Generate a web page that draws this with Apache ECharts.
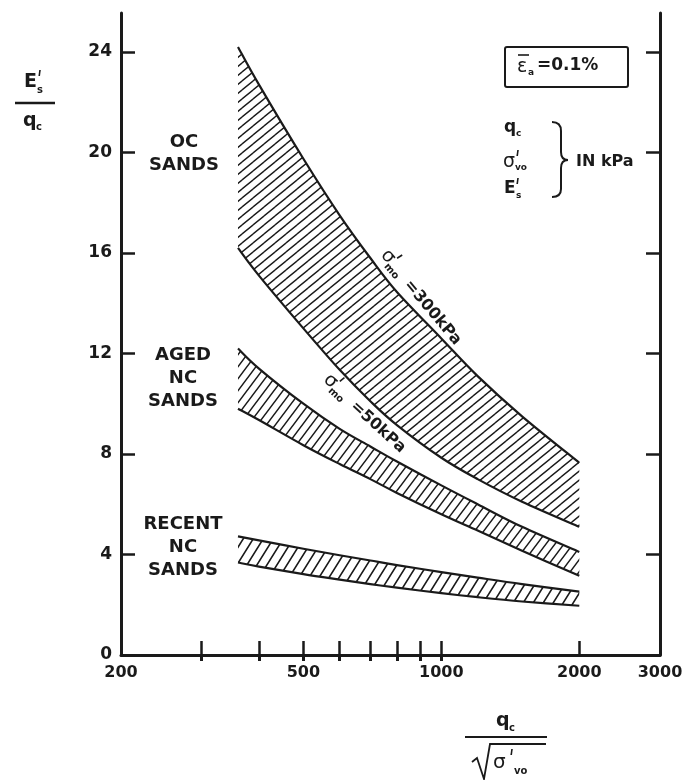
<!DOCTYPE html>
<html>
<head>
<meta charset="utf-8">
<style>html,body{margin:0;padding:0;background:#fff}#c{width:686px;height:780px}</style>
<script src="https://cdn.jsdelivr.net/npm/echarts@6/dist/echarts.min.js"></script>
</head>
<body>
<div id="c"></div>
<script>
// ---- data ----
const xValues = [360, 400, 500, 600, 700, 800, 1000, 1200, 1500, 2000];
const ocTop      = [24.2, 22.7, 19.75, 17.5, 15.8, 14.45, 12.6, 11.1, 9.5, 7.65];
const ocBottom   = [16.2, 15.1, 13.0, 11.35, 10.1, 9.15, 7.85, 7.0, 6.1, 5.1];
const agedTop    = [12.2, 11.4, 10.0, 9.0, 8.3, 7.7, 6.75, 6.0, 5.1, 4.1];
const agedBottom = [9.8, 9.35, 8.35, 7.6, 7.0, 6.45, 5.6, 4.95, 4.15, 3.15];
const recTop     = [4.72, 4.56, 4.23, 3.97, 3.76, 3.58, 3.3, 3.08, 2.82, 2.52];
const recBottom  = [3.68, 3.52, 3.22, 3.0, 2.82, 2.68, 2.46, 2.3, 2.13, 1.96];
const yTicks = [0, 4, 8, 12, 16, 20, 24];
const xTickValues = [300, 400, 500, 600, 700, 800, 900, 1000, 2000];
const xTopTickValues = [300, 400, 500, 600, 700, 800, 900, 1000];
const xLabelValues = [200, 500, 1000, 2000, 3000];

const INK = '#1a1a1a';
const FONT = '"DejaVu Sans", sans-serif';

function hatch(w, h, lw) {
  const c = document.createElement('canvas');
  c.width = w; c.height = h;
  const g = c.getContext('2d');
  g.strokeStyle = INK; g.lineWidth = lw; g.lineCap = 'square';
  g.beginPath();
  for (const k of [-1, 0, 1]) {
    g.moveTo(k * w, h); g.lineTo(k * w + w, 0);
  }
  g.stroke();
  return { image: c, repeat: 'repeat' };
}

function pairs(xs, ys) { return xs.map((x, i) => [x, ys[i]]); }

// smooth pixel-space path through screen points (Catmull-Rom as cubic Bezier)
function segs(P) {
  let d = '';
  const n = P.length;
  for (let i = 0; i < n - 1; i++) {
    const p0 = P[Math.max(i - 1, 0)], p1 = P[i], p2 = P[i + 1], p3 = P[Math.min(i + 2, n - 1)];
    const c1 = [p1[0] + (p2[0] - p0[0]) / 6, p1[1] + (p2[1] - p0[1]) / 6];
    const c2 = [p2[0] - (p3[0] - p1[0]) / 6, p2[1] - (p3[1] - p1[1]) / 6];
    d += ' C' + c1[0] + ',' + c1[1] + ' ' + c2[0] + ',' + c2[1] + ' ' + p2[0] + ',' + p2[1];
  }
  return d;
}

function bandSeries(name, top, bot, pattern) {
  return {
    name: name, type: 'custom', coordinateSystem: 'cartesian2d',
    data: pairs(xValues, top), clip: false, z: 2,
    renderItem: function (params, api) {
      if (params.dataIndex !== 0) return null;
      const T = xValues.map((x, i) => api.coord([x, top[i]]));
      const B = xValues.map((x, i) => api.coord([x, bot[i]]));
      const Br = B.slice().reverse();
      const fillPath = 'M' + T[0][0] + ',' + T[0][1] + segs(T) +
        ' L' + Br[0][0] + ',' + Br[0][1] + segs(Br) + ' Z';
      const topPath = 'M' + T[0][0] + ',' + T[0][1] + segs(T);
      const botPath = 'M' + B[0][0] + ',' + B[0][1] + segs(B);
      return { type: 'group', children: [
        { type: 'path', shape: { pathData: fillPath }, style: { fill: pattern, stroke: null } },
        { type: 'path', shape: { pathData: topPath }, style: { fill: null, stroke: INK, lineWidth: 2.2 } },
        { type: 'path', shape: { pathData: botPath }, style: { fill: null, stroke: INK, lineWidth: 2.2 } }
      ] };
    }
  };
}

function txt(x, y, text, size, opts) {
  opts = opts || {};
  const st = { text: text, fill: INK,
    font: (opts.weight || 'bold') + ' ' + size + 'px ' + FONT,
    textAlign: opts.align || 'left', textVerticalAlign: 'middle' };
  if (opts.lineHeight) st.lineHeight = opts.lineHeight;
  return { type: 'text', x: x, y: y, z: 10, silent: true, style: st };
}
function ln(x1, y1, x2, y2, w) {
  return { type: 'line', z: 10, silent: true, shape: { x1: x1, y1: y1, x2: x2, y2: y2 }, style: { stroke: INK, lineWidth: w || 2 } };
}
function prime(x, y, len) { return ln(x, y - len / 2, x - 0.8, y + len / 2, 1.6); }
function bz(x1, y1, cx, cy, x2, y2, w) {
  return { type: 'bezierCurve', z: 10, silent: true, shape: { x1: x1, y1: y1, cpx1: cx, cpy1: cy, x2: x2, y2: y2 },
    style: { stroke: INK, lineWidth: w || 2, fill: null } };
}

const chart = echarts.init(document.getElementById('c'), null, { renderer: 'canvas' });
const axisLineStyle = { color: INK, width: 3 };

chart.setOption({
  animation: false,
  backgroundColor: '#fff',
  grid: { left: 121, right: 26, top: 13, bottom: 125, containLabel: false },
  xAxis: [
    { type: 'log', logBase: 10, min: 200, max: 3000, position: 'bottom',
      axisLine: { show: true, onZero: false, lineStyle: axisLineStyle },
      axisTick: { show: true, inside: true, length: 14, lineStyle: { color: INK, width: 2.5 }, customValues: xTickValues },
      minorTick: { show: false },
      axisLabel: { customValues: xLabelValues, margin: 10, color: INK, fontFamily: FONT, fontWeight: 'bold', fontSize: 16,
        formatter: function (v) { return String(Math.round(v)); } },
      splitLine: { show: false } },
    { type: 'log', logBase: 10, min: 200, max: 3000, position: 'top',
      axisLine: { show: false },
      axisTick: { show: true, inside: true, length: 6, lineStyle: { color: INK, width: 3 }, customValues: xTopTickValues },
      axisLabel: { show: false }, splitLine: { show: false } }
  ],
  yAxis: [
    { type: 'value', min: 0, max: 25.55, position: 'left',
      axisLine: { show: true, lineStyle: axisLineStyle },
      axisTick: { show: true, inside: true, length: 14, lineStyle: { color: INK, width: 2.5 }, customValues: yTicks },
      axisLabel: { customValues: yTicks, margin: 9, color: INK, fontFamily: FONT, fontWeight: 'bold', fontSize: 17 },
      splitLine: { show: false } },
    { type: 'value', min: 0, max: 25.55, position: 'right',
      axisLine: { show: true, lineStyle: axisLineStyle },
      axisTick: { show: true, inside: true, length: 14, lineStyle: { color: INK, width: 2.5 }, customValues: yTicks },
      axisLabel: { show: false }, splitLine: { show: false } }
  ],
  series: [
    bandSeries('OC sands', ocTop, ocBottom, hatch(11, 9, 1.4)),
    bandSeries('Aged NC sands', agedTop, agedBottom, hatch(9, 12, 1.4)),
    bandSeries('Recent NC sands', recTop, recBottom, hatch(10, 16, 1.6))
  ],
  graphic: [
    // y-axis title  E's / qc
    txt(24, 82, 'E', 19),
    prime(40, 73, 6),
    txt(37, 90, 's', 10),
    ln(15, 103, 55, 103, 2.5),
    txt(23, 121, 'q', 19),
    txt(36, 127, 'c', 10),
    // x-axis title  qc / sqrt(sigma'vo)
    txt(496, 721, 'q', 19),
    txt(509, 728, 'c', 10),
    ln(465, 737, 547, 737, 2),
    { type: 'polyline', z: 10, silent: true, shape: { points: [[472, 762], [477, 758], [484, 779], [490, 744], [546, 744]] },
      style: { stroke: INK, lineWidth: 1.8, fill: null } },
    txt(493, 763, '\u03c3', 20, { weight: 'normal' }),
    prime(512, 752, 6),
    txt(514, 771, 'vo', 10),
    // strain box
    { type: 'rect', z: 10, silent: true, shape: { x: 505, y: 47, width: 123, height: 40, r: 2 },
      style: { stroke: INK, lineWidth: 2, fill: null } },
    txt(517, 67, '\u03b5', 19, { weight: 'normal' }),
    ln(518, 55, 529, 55, 1.6),
    txt(528, 73, 'a', 9),
    txt(537, 66, '=0.1%', 17),
    // units block
    txt(504, 128, 'q', 17),
    txt(516, 134, 'c', 9),
    txt(503, 162, '\u03c3', 19, { weight: 'normal' }),
    prime(518, 153, 6),
    txt(515, 168, 'vo', 9),
    txt(504, 189, 'E', 17),
    prime(518, 181, 6),
    txt(516, 196, 's', 9),
    bz(552, 122, 561, 122, 561, 131),
    ln(561, 131, 561, 152),
    bz(561, 152, 561, 160, 568, 160),
    bz(568, 160, 561, 160, 561, 168),
    ln(561, 168, 561, 189),
    bz(561, 189, 561, 197, 552, 197),
    txt(576, 162, 'IN kPa', 16),
    // band labels
    txt(184, 154, 'OC\nSANDS', 18, { align: 'center', lineHeight: 23 }),
    txt(183, 378, 'AGED\nNC\nSANDS', 18, { align: 'center', lineHeight: 23 }),
    txt(183, 547, 'RECENT\nNC\nSANDS', 18, { align: 'center', lineHeight: 23 }),
    // rotated curve labels
    { type: 'group', x: 384, y: 252, rotation: -0.87, z: 10, silent: true, children: [
      txt(0, 0, '\u03c3', 19, { weight: 'normal' }),
      prime(14, -9, 6),
      txt(11, 7, 'mo', 10),
      txt(38, 2, '=300kPa', 16)
    ] },
    { type: 'group', x: 326, y: 377, rotation: -0.74, z: 10, silent: true, children: [
      txt(0, 0, '\u03c3', 19, { weight: 'normal' }),
      prime(14, -9, 6),
      txt(11, 7, 'mo', 10),
      txt(38, 2, '=50kPa', 16)
    ] }
  ]
});
</script>
</body>
</html>
